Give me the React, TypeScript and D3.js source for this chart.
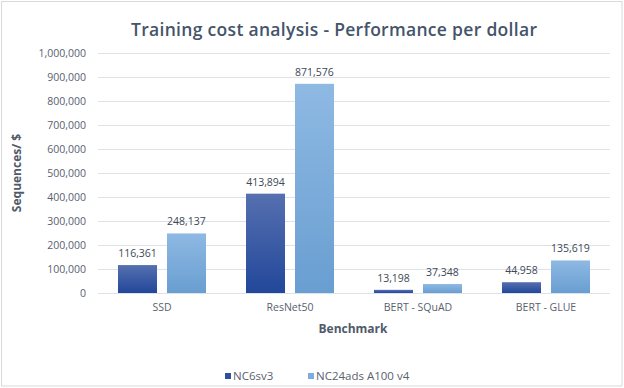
import React from 'react';
import * as d3 from 'd3';

const benchmarks = ['SSD', 'ResNet50', 'BERT - SQuAD', 'BERT - GLUE'];
const seriesNames = ['NC6sv3', 'NC24ads A100 v4'];
const nc6sv3 = [116361, 413894, 13198, 44958];
const nc24ads = [248137, 871576, 37348, 135619];
const yTicks = [0, 100000, 200000, 300000, 400000, 500000, 600000, 700000, 800000, 900000, 1000000];

const W = 624;
const H = 388;
const margin = { top: 53, right: 14, bottom: 95, left: 98 };
const FONT = '"Open Sans", "Noto Sans", sans-serif';
const gradIds = ['gradDark', 'gradLight'];
const gradStops = [
  ['#5670b0', '#22479a'],
  ['#8eb9e3', '#699ed1'],
];
const legendColors = ['#2f4f9f', '#7dade0'];

export default function App() {
  const x0 = d3.scaleBand<string>()
    .domain(benchmarks)
    .range([margin.left, W - margin.right]);

  // two bars per benchmark, 20px padding on each side of the group
  const x1 = d3.scaleBand<string>()
    .domain(seriesNames)
    .range([20, x0.bandwidth() - 20])
    .paddingInner(0.204);

  const y = d3.scaleLinear()
    .domain([0, 1000000])
    .range([H - margin.bottom, margin.top]);

  const fmt = d3.format(',');
  const values = [nc6sv3, nc24ads];

  return (
    <svg width={W} height={H} style={{ position: 'absolute', left: 0, top: 0, fontFamily: FONT }}>
      <defs>
        {gradIds.map((id, i) => (
          <linearGradient key={id} id={id} x1="0" y1="0" x2="0" y2="1">
            <stop offset="0%" stopColor={gradStops[i][0]} />
            <stop offset="100%" stopColor={gradStops[i][1]} />
          </linearGradient>
        ))}
      </defs>
      <rect x={0} y={0} width={W} height={H} fill="#fff" />
      <rect x={1.5} y={1.5} width={620.5} height={384.5} fill="none" stroke="#d9d9d9" />

      {/* title */}
      <text x={334} y={36} textAnchor="middle" fontSize={17.5} fontWeight={600} fill="#44546a"
        textLength={406} lengthAdjust="spacing">
        Training cost analysis - Performance per dollar
      </text>

      {/* gridlines and y ticks */}
      {yTicks.map(t => (
        <g key={t}>
          <line x1={margin.left} x2={W - margin.right} y1={y(t) + 0.5} y2={y(t) + 0.5} stroke="#dde2e9" />
          <text x={86} y={y(t)} dy="0.35em" textAnchor="end" fontSize={10.5} fill="#5a6170">{fmt(t)}</text>
        </g>
      ))}

      {/* bars */}
      {benchmarks.map((b, ci) => (
        <g key={b} transform={`translate(${x0(b)},0)`}>
          {seriesNames.map((s, si) => {
            const v = values[si][ci];
            const bx = x1(s)!;
            return (
              <g key={s}>
                <rect x={bx} y={y(v)} width={x1.bandwidth()} height={y(0) - y(v)} fill={`url(#${gradIds[si]})`} />
                <text x={bx + x1.bandwidth() / 2} y={y(v) - 8} textAnchor="middle" fontSize={10.5} fill="#404858">
                  {fmt(v)}
                </text>
              </g>
            );
          })}
          <text x={x0.bandwidth() / 2} y={y(0) + 18} textAnchor="middle" fontSize={10.5} fill="#5a6170">{b}</text>
        </g>
      ))}

      {/* axis titles */}
      <text x={353} y={333} textAnchor="middle" fontSize={12} fontWeight="bold" fill="#505a6a">Benchmark</text>
      <text transform={`translate(21,${(margin.top + H - margin.bottom) / 2}) rotate(-90)`} textAnchor="middle"
        fontSize={12} fontWeight="bold" fill="#505a6a">Sequences/ $</text>

      {/* legend */}
      {seriesNames.map((s, i) => {
        const lx = [225, 308][i];
        return (
          <g key={s}>
            <rect x={lx} y={373} width={6} height={6} fill={legendColors[i]} />
            <text x={lx + 8} y={376} dy="0.35em" fontSize={11.5} fill="#5a6170">{s}</text>
          </g>
        );
      })}
    </svg>
  );
}
